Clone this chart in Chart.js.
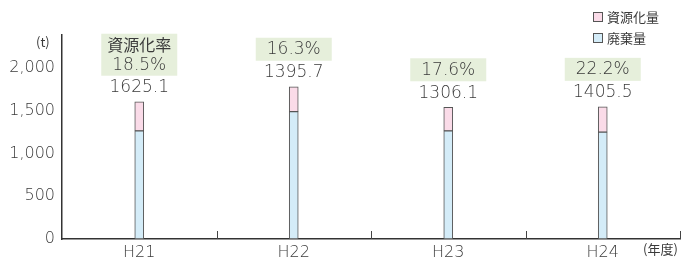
<!DOCTYPE html>
<html>
<head>
<meta charset="utf-8">
<script src="https://cdn.jsdelivr.net/npm/chart.js@4"></script>
<style>
  html, body { margin: 0; padding: 0; background: #fff; }
  #wrap { width: 681px; height: 259px; }
</style>
</head>
<body>
<div id="wrap"><canvas id="myChart" width="681" height="259"></canvas></div>
<script>
// 年度
var years = ['H21', 'H22', 'H23', 'H24'];
// 廃棄量 (t) - 図の棒から読み取り
var haiki = [1265, 1490, 1265, 1250];
// 資源化量 (t)
var shigen = [340, 290, 275, 295];
// 棒の上に書かれている数値
var totalLabels = ['1625.1', '1395.7', '1306.1', '1405.5'];
// 資源化率
var rateLabels = ['18.5%', '16.3%', '17.6%', '22.2%'];
// 目盛
var yTicks = [0, 500, 1000, 1500, 2000];

var numFont = '"DejaVu Sans", sans-serif';
var jpFont = '"Noto Sans CJK JP", sans-serif';
var textColor = '#3a3a3a';

// 注記・凡例・x軸の目盛線
var annotate = {
  id: 'annotate',
  afterDatasetsDraw: function(chart) {
    var ctx = chart.ctx;
    var x = chart.scales.x, y = chart.scales.y;
    var area = chart.chartArea;
    ctx.save();

    // x軸の区切り (内向き)
    ctx.strokeStyle = '#444';
    ctx.lineWidth = 1;
    for (var i = 1; i <= years.length; i++) {
      var px = Math.round(x.getPixelForValue(i - 0.5)) + 0.5;
      ctx.beginPath();
      ctx.moveTo(px, area.bottom);
      ctx.lineTo(px, area.bottom - 8);
      ctx.stroke();
    }

    ctx.textAlign = 'center';
    ctx.textBaseline = 'middle';
    years.forEach(function(yr, i) {
      var cx = x.getPixelForValue(i);
      var top = y.getPixelForValue(haiki[i] + shigen[i]);
      var valY = top - 14;
      ctx.fillStyle = textColor;
      ctx.font = '300 17px ' + numFont;
      ctx.fillText(totalLabels[i], cx, valY);

      var boxBottom = valY - 12;
      var lines = i === 0 ? ['資源化率', rateLabels[i]] : [rateLabels[i]];
      var h = i === 0 ? 42 : 23;
      ctx.fillStyle = '#e6efdb';
      ctx.fillRect(cx - 38, boxBottom - h, 76, h);
      ctx.fillStyle = textColor;
      if (i === 0) {
        ctx.font = '16px ' + jpFont;
        ctx.fillText(lines[0], cx, boxBottom - 31);
        ctx.font = '300 17px ' + numFont;
        ctx.fillText(lines[1], cx, boxBottom - 10);
      } else {
        ctx.font = '300 17px ' + numFont;
        ctx.fillText(lines[0], cx, boxBottom - 11);
      }
    });

    // 単位
    ctx.font = '13px ' + jpFont;
    ctx.fillStyle = textColor;
    ctx.textAlign = 'left';
    ctx.fillText('(t)', 36, 42);
    ctx.fillText('(年度)', 643, 249);

    // 凡例
    var items = chart.data.datasets.slice().reverse();
    items.forEach(function(ds, k) {
      var ly = 17 + k * 21;
      ctx.fillStyle = ds.backgroundColor;
      ctx.fillRect(593.5, ly - 4.5, 9, 9);
      ctx.strokeStyle = '#555';
      ctx.strokeRect(593.5, ly - 4.5, 9, 9);
      ctx.fillStyle = textColor;
      ctx.font = '13px ' + jpFont;
      ctx.fillText(ds.label, 607, ly);
    });
    ctx.restore();
  }
};

new Chart(document.getElementById('myChart'), {
  type: 'bar',
  data: {
    labels: years,
    datasets: [
      {
        label: '廃棄量',
        data: haiki,
        backgroundColor: '#d4ecf8',
        borderColor: '#555',
        borderWidth: 1,
        borderSkipped: false,
        barThickness: 9
      },
      {
        label: '資源化量',
        data: shigen,
        backgroundColor: '#fadbe8',
        borderColor: '#555',
        borderWidth: 1,
        borderSkipped: false,
        barThickness: 9
      }
    ]
  },
  options: {
    responsive: false,
    animation: false,
    layout: { padding: { top: 35, right: 1, left: 0, bottom: 0 } },
    plugins: {
      legend: { display: false },
      tooltip: { enabled: false }
    },
    scales: {
      x: {
        stacked: true,
        grid: { display: false, drawTicks: false },
        border: { display: true, color: '#333', width: 1.5 },
        ticks: { color: textColor, font: { family: numFont, size: 16, weight: '300' }, padding: 4 },
        afterFit: function(s) { s.height = 20; }
      },
      y: {
        stacked: true,
        min: 0,
        max: 2385,
        grid: { display: false, drawTicks: false },
        border: { display: true, color: '#333', width: 1.5 },
        afterBuildTicks: function(s) { s.ticks = yTicks.map(function(v) { return { value: v }; }); },
        ticks: {
          color: textColor,
          padding: 7,
          font: { family: numFont, size: 16, weight: '300' },
          callback: function(v) { return v.toLocaleString('en-US'); }
        },
        afterFit: function(s) { s.width = 62; }
      }
    }
  },
  plugins: [annotate]
});
</script>
</body>
</html>
